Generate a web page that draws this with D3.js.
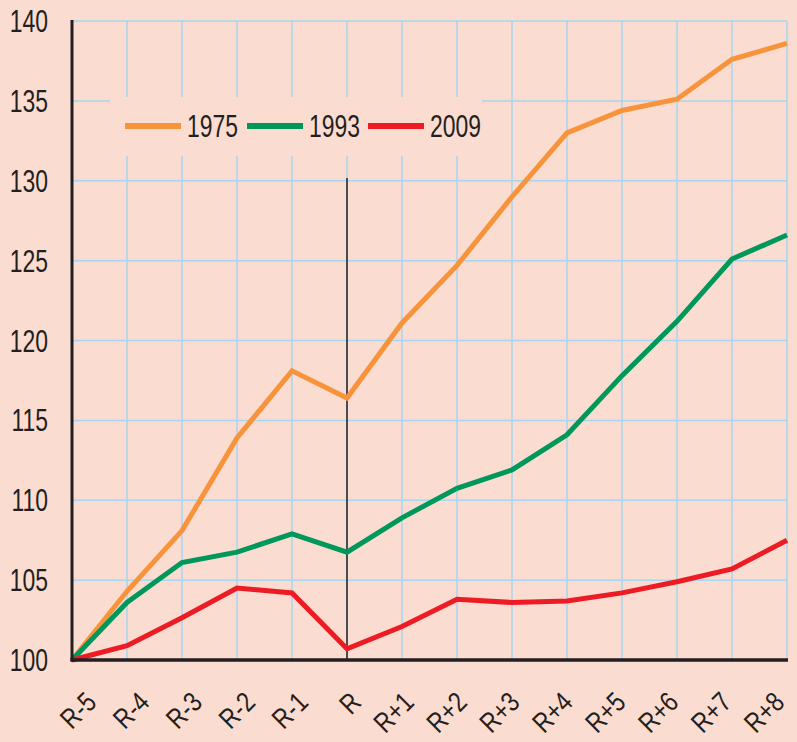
<!DOCTYPE html>
<html>
<head>
<meta charset="utf-8">
<script src="https://cdn.jsdelivr.net/npm/d3@7"></script>
<style>
  html, body { margin: 0; padding: 0; background: #fbdcd0; }
  svg { display: block; }
  text { font-family: "Liberation Sans", Arial, sans-serif; fill: #231f20; }
</style>
</head>
<body>
<div id="vis"></div>
<script>
// years from R-5 to R+8
const categories = ['R-5', 'R-4', 'R-3', 'R-2', 'R-1', 'R', 'R+1', 'R+2', 'R+3', 'R+4', 'R+5', 'R+6', 'R+7', 'R+8'];
const yTicks = [100, 105, 110, 115, 120, 125, 130, 135, 140];
const seriesNames = ['1975', '1993', '2009'];
const values1975 = [100, 104.3, 108.1, 113.9, 118.1, 116.4, 121.1, 124.7, 129.0, 133.0, 134.4, 135.1, 137.6, 138.6];
const values1993 = [100, 103.6, 106.1, 106.75, 107.9, 106.75, 108.9, 110.75, 111.9, 114.1, 117.8, 121.2, 125.1, 126.6];
const values2009 = [100, 100.9, 102.65, 104.5, 104.2, 100.7, 102.1, 103.8, 103.6, 103.7, 104.2, 104.9, 105.7, 107.5];
const colors = ['#f7943b', '#00975a', '#ed1c24'];

const width = 797;
const height = 742;
const margin = { top: 21, right: 10, bottom: 82, left: 72 };

const svg = d3.select('#vis').append('svg')
  .attr('width', width)
  .attr('height', height);

svg.append('rect')
  .attr('width', width)
  .attr('height', height)
  .attr('fill', '#fbdcd0');

const x = d3.scalePoint()
  .domain(categories)
  .range([margin.left, width - margin.right]);

const y = d3.scaleLinear()
  .domain([100, 140])
  .range([height - margin.bottom, margin.top]);

// labels sit a little off the ticks in the original
const xLabel = d3.scalePoint()
  .domain(categories)
  .range([98, 786]);

// grid
const grid = svg.append('g')
  .attr('stroke', '#a8d5f0')
  .attr('stroke-width', 1.5);

grid.selectAll('line.h')
  .data(yTicks.slice(1))
  .enter().append('line')
  .attr('class', 'h')
  .attr('x1', margin.left)
  .attr('x2', width - margin.right)
  .attr('y1', d => y(d))
  .attr('y2', d => y(d));

grid.selectAll('line.v')
  .data(categories.slice(1))
  .enter().append('line')
  .attr('class', 'v')
  .attr('x1', d => x(d))
  .attr('x2', d => x(d))
  .attr('y1', y(140))
  .attr('y2', y(100));

// legend box hides the grid behind it
svg.append('rect')
  .attr('x', 110)
  .attr('y', 97)
  .attr('width', 372)
  .attr('height', 59)
  .attr('fill', '#fbdcd0');

// vertical marker at R
svg.append('line')
  .attr('x1', x('R'))
  .attr('x2', x('R'))
  .attr('y1', 178)
  .attr('y2', y(100))
  .attr('stroke', '#231f20')
  .attr('stroke-width', 1.5);

// lines
const line = d3.line()
  .x((d, i) => x(categories[i]))
  .y(d => y(d));

[values1975, values1993, values2009].forEach((vals, i) => {
  svg.append('path')
    .datum(vals)
    .attr('d', line)
    .attr('fill', 'none')
    .attr('stroke', colors[i])
    .attr('stroke-width', 5);
});

// axes
svg.append('line')
  .attr('x1', margin.left)
  .attr('x2', margin.left)
  .attr('y1', y(140) - 1)
  .attr('y2', y(100) + 1.5)
  .attr('stroke', '#231f20')
  .attr('stroke-width', 3);

svg.append('line')
  .attr('x1', margin.left - 1.5)
  .attr('x2', width - margin.right + 1)
  .attr('y1', y(100))
  .attr('y2', y(100))
  .attr('stroke', '#231f20')
  .attr('stroke-width', 3.5);

// y tick labels
svg.selectAll('text.ytick')
  .data(yTicks)
  .enter().append('text')
  .attr('class', 'ytick')
  .attr('transform', d => 'translate(48,' + (y(d) + 11) + ') scale(0.74,1)')
  .attr('text-anchor', 'end')
  .attr('font-size', 31)
  .text(d => d);

// x tick labels
svg.selectAll('text.xtick')
  .data(categories)
  .enter().append('text')
  .attr('class', 'xtick')
  .attr('transform', d => 'translate(' + xLabel(d) + ',704) rotate(-45) scale(0.82,1)')
  .attr('text-anchor', 'end')
  .attr('font-size', 28)
  .text(d => d);

// legend
const legendX = [125, 247, 368];
const legend = svg.append('g');
seriesNames.forEach((name, i) => {
  legend.append('line')
    .attr('x1', legendX[i])
    .attr('x2', legendX[i] + 56)
    .attr('y1', 126)
    .attr('y2', 126)
    .attr('stroke', colors[i])
    .attr('stroke-width', 6);
  legend.append('text')
    .attr('transform', 'translate(' + (legendX[i] + 62) + ',137) scale(0.74,1)')
    .attr('font-size', 31)
    .text(name);
});
</script>
</body>
</html>
